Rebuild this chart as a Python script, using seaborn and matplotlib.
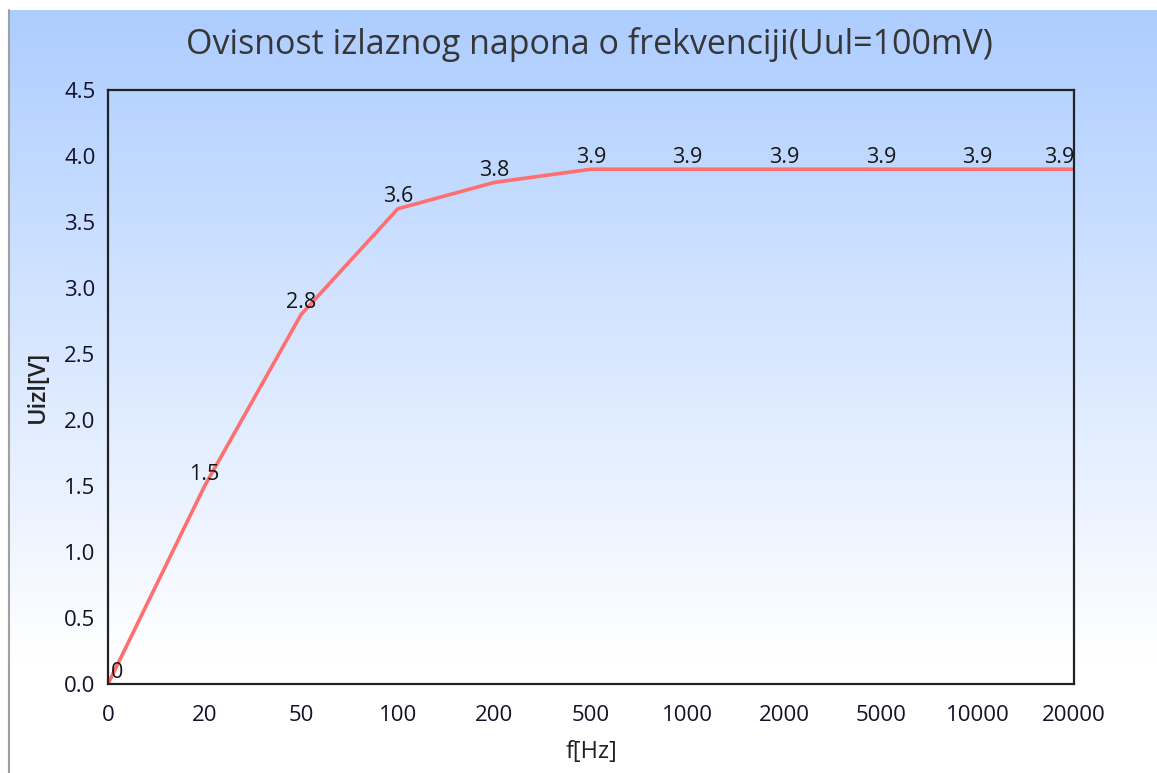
import numpy as np
import matplotlib
matplotlib.use("Agg")
import matplotlib.pyplot as plt
import seaborn as sns

freqs = ["0", "20", "50", "100", "200", "500", "1000", "2000", "5000", "10000", "20000"]
uizl = [0, 1.5, 2.8, 3.6, 3.8, 3.9, 3.9, 3.9, 3.9, 3.9, 3.9]
point_labels = ["0", "1.5", "2.8", "3.6", "3.8", "3.9", "3.9", "3.9", "3.9", "3.9", "3.9"]
yticks = [0.0, 0.5, 1.0, 1.5, 2.0, 2.5, 3.0, 3.5, 4.0, 4.5]

sns.set_style("white")
plt.rcParams['font.family'] = ['Open Sans', 'DejaVu Sans']

W, H = 1157, 773
fig = plt.figure(figsize=(W / 100, H / 100), dpi=100)
fig.patch.set_facecolor("white")

# gradient background box
bg = fig.add_axes([8 / W, 0, 1 - 8 / W, (H - 10) / H])
bg.set_axis_off()
n = 400
t = np.clip(np.linspace(0, 1, n) / 0.85, 0, 1)
top = np.array([173, 205, 255]) / 255
grad = top[None, :] * (1 - t[:, None]) + np.ones(3)[None, :] * t[:, None]
bg.imshow(grad[:, None, :], aspect="auto", extent=[0, 1, 0, 1])
bg.set_xlim(0, 1)
bg.set_ylim(0, 1)
fig.add_artist(plt.Line2D([8.5 / W, 8.5 / W], [0, (H - 10) / H], color="#a0a0a0", lw=1.5))

ax = fig.add_axes([108 / W, (H - 684) / H, (1074 - 108) / W, (684 - 90) / H])
ax.set_facecolor("none")
pos = list(range(len(freqs)))
sns.lineplot(x=pos, y=uizl, ax=ax, color="#ff6f6f", lw=2.6)

for i, (v, lab) in enumerate(zip(uizl, point_labels)):
    ha = "center"
    dx = 0
    if i == 0:
        ha, dx = "left", 2
    elif i == len(freqs) - 1:
        ha, dx = "right", 0
    ax.annotate(lab, (i, v), xytext=(dx, 1), textcoords="offset points",
                ha=ha, va="bottom", fontsize=15.5, color="#151515")

ax.set_xlim(0, len(freqs) - 1)
ax.set_ylim(0, 4.5)
ax.set_xticks(pos)
ax.set_xticklabels(freqs)
ax.set_yticks(yticks)
ax.set_yticklabels([f"{y:.1f}" for y in yticks])
ax.tick_params(axis="both", length=0, labelsize=16, colors="#121228")
ax.tick_params(axis="x", pad=15)
ax.tick_params(axis="y", pad=9)
for s in ax.spines.values():
    s.set_visible(True)
    s.set_color("#222222")
    s.set_linewidth(1.6)

ax.set_xlabel("f[Hz]", fontsize=17, color="#222222", labelpad=10)
ax.set_ylabel("Uizl[V]", fontsize=17, color="#222222", fontweight="semibold", labelpad=10)
fig.text(589 / W, 1 - 45 / H, "Ovisnost izlaznog napona o frekvenciji(Uul=100mV)",
         ha="center", va="center", fontsize=24.5, color="#363636")

fig.savefig("out.png", dpi=100)
